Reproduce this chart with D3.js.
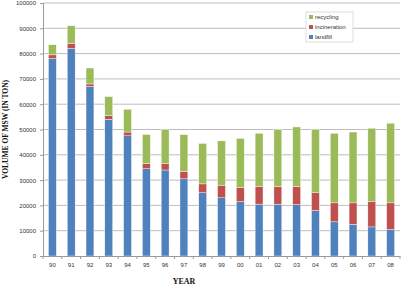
<!DOCTYPE html>
<html lang="en">
<head>
    <meta charset="UTF-8">
    <title>MSW volume</title>
    <script src="https://cdn.jsdelivr.net/npm/d3@7/dist/d3.min.js"></script>
    <style>
        body { margin: 0; background: #fff; }
        .tick text { font-family: "Liberation Sans", Arial, sans-serif; font-size: 6px; fill: #333; }
        .grid line { stroke: #bdbdbd; stroke-width: 1px; }
        .title { font-family: "Liberation Serif", "Times New Roman", serif; font-weight: bold; fill: #111; }
    </style>
</head>
<body>
    <svg width=413 height=289></svg>
    <script>
        var years = ['90', '91', '92', '93', '94', '95', '96', '97', '98', '99',
                     '00', '01', '02', '03', '04', '05', '06', '07', '08'];
        var landfill     = [78000, 82000, 67000, 54000, 47500, 34500, 34000, 30500, 25000, 23000,
                            21500, 20500, 20500, 20300, 18000, 13500, 12500, 11500, 10500];
        var incineration = [1500, 2000, 1000, 1500, 1500, 2000, 2500, 3000, 3500, 5000,
                            5500, 7000, 7000, 7200, 7000, 7500, 8500, 10000, 10500];
        var recycling    = [4000, 7000, 6300, 7500, 9000, 11500, 13500, 14500, 16000, 17500,
                            19500, 21000, 22500, 23500, 25000, 27500, 28000, 29000, 31500];
        var yTicks = [0, 10000, 20000, 30000, 40000, 50000, 60000, 70000, 80000, 90000, 100000];

        var seriesNames = ['landfill', 'incineration', 'recycling'];
        var colors = { landfill: '#4f81bd', incineration: '#c0504d', recycling: '#9bbb59' };

        var svg = d3.select('svg'),
            margin = { top: 3, right: 13, bottom: 33, left: 43 },
            chartWidth = 413 - margin.left - margin.right,
            chartHeight = 289 - margin.top - margin.bottom;

        var table = years.map(function(y, i) {
            return { year: y, landfill: landfill[i], incineration: incineration[i], recycling: recycling[i] };
        });
        var stacked = d3.stack().keys(seriesNames)(table);

        var xScale = d3.scaleBand().domain(years).range([0, chartWidth]).paddingInner(0.58).paddingOuter(0.29),
            yScale = d3.scaleLinear().domain([0, 100000]).range([chartHeight, 0]);

        var chartG = svg.append('g')
            .attr('transform', 'translate(' + [margin.left, margin.top] + ')');

        // gridlines
        chartG.append('g')
            .classed('grid', true)
            .selectAll('line')
            .data(yTicks.slice(1))
            .enter().append('line')
            .attr('x1', 0).attr('x2', chartWidth)
            .attr('y1', function(d) { return yScale(d); })
            .attr('y2', function(d) { return yScale(d); });

        // bars
        chartG.selectAll('g.series')
            .data(stacked)
            .enter().append('g')
            .classed('series', true)
            .attr('fill', function(d) { return colors[d.key]; })
            .selectAll('rect')
            .data(function(d) { return d; })
            .enter().append('rect')
            .attr('x', function(d) { return xScale(d.data.year); })
            .attr('width', xScale.bandwidth())
            .attr('y', function(d) { return yScale(d[1]); })
            .attr('height', function(d) { return yScale(d[0]) - yScale(d[1]); })
            .attr('stroke', '#fff')
            .attr('stroke-width', 0.4);

        // y axis
        var yAxis = d3.axisLeft(yScale).tickValues(yTicks).tickFormat(d3.format('d')).tickSize(3).tickPadding(4);
        chartG.append('g')
            .classed('y-axis', true)
            .call(yAxis)
            .call(function(g) {
                g.select('.domain').attr('stroke', '#999');
                g.selectAll('.tick line').attr('stroke', '#999');
            });

        // x axis with ticks at category boundaries
        var xAxis = d3.axisBottom(xScale).tickSize(0).tickPadding(7);
        var xg = chartG.append('g')
            .classed('x-axis', true)
            .attr('transform', 'translate(' + [0, chartHeight] + ')')
            .call(xAxis);
        xg.select('.domain').attr('stroke', '#999');
        var step = xScale.step();
        xg.selectAll('line.sep')
            .data(d3.range(years.length + 1))
            .enter().append('line')
            .classed('sep', true)
            .attr('x1', function(d) { return d * step; })
            .attr('x2', function(d) { return d * step; })
            .attr('y1', 0).attr('y2', 3)
            .attr('stroke', '#999');

        // axis titles
        svg.append('text')
            .classed('title', true)
            .attr('transform', 'translate(8,' + (margin.top + chartHeight / 2) + ') rotate(-90)')
            .attr('text-anchor', 'middle')
            .attr('font-size', '7.5px')
            .text('VOLUME OF MSW (IN TON)');

        svg.append('text')
            .classed('title', true)
            .attr('x', 184).attr('y', 284)
            .attr('text-anchor', 'middle')
            .attr('font-size', '8px')
            .text('YEAR');

        // legend
        var legend = svg.append('g').attr('transform', 'translate(306,12)');
        legend.append('rect')
            .attr('width', 47).attr('height', 30)
            .attr('fill', '#fff').attr('stroke', '#c8c8c8').attr('stroke-width', 0.6);
        var items = legend.selectAll('g.item')
            .data(seriesNames.slice().reverse())
            .enter().append('g')
            .classed('item', true)
            .attr('transform', function(d, i) { return 'translate(3,' + (5 + i * 10) + ')'; });
        items.append('rect')
            .attr('width', 4).attr('height', 4).attr('y', -2)
            .attr('fill', function(d) { return colors[d]; });
        items.append('text')
            .attr('x', 6).attr('dy', '0.35em')
            .attr('font-family', '"Liberation Sans", Arial, sans-serif')
            .attr('font-size', '6px')
            .attr('fill', '#333')
            .text(function(d) { return d; });
    </script>
</body>
</html>
